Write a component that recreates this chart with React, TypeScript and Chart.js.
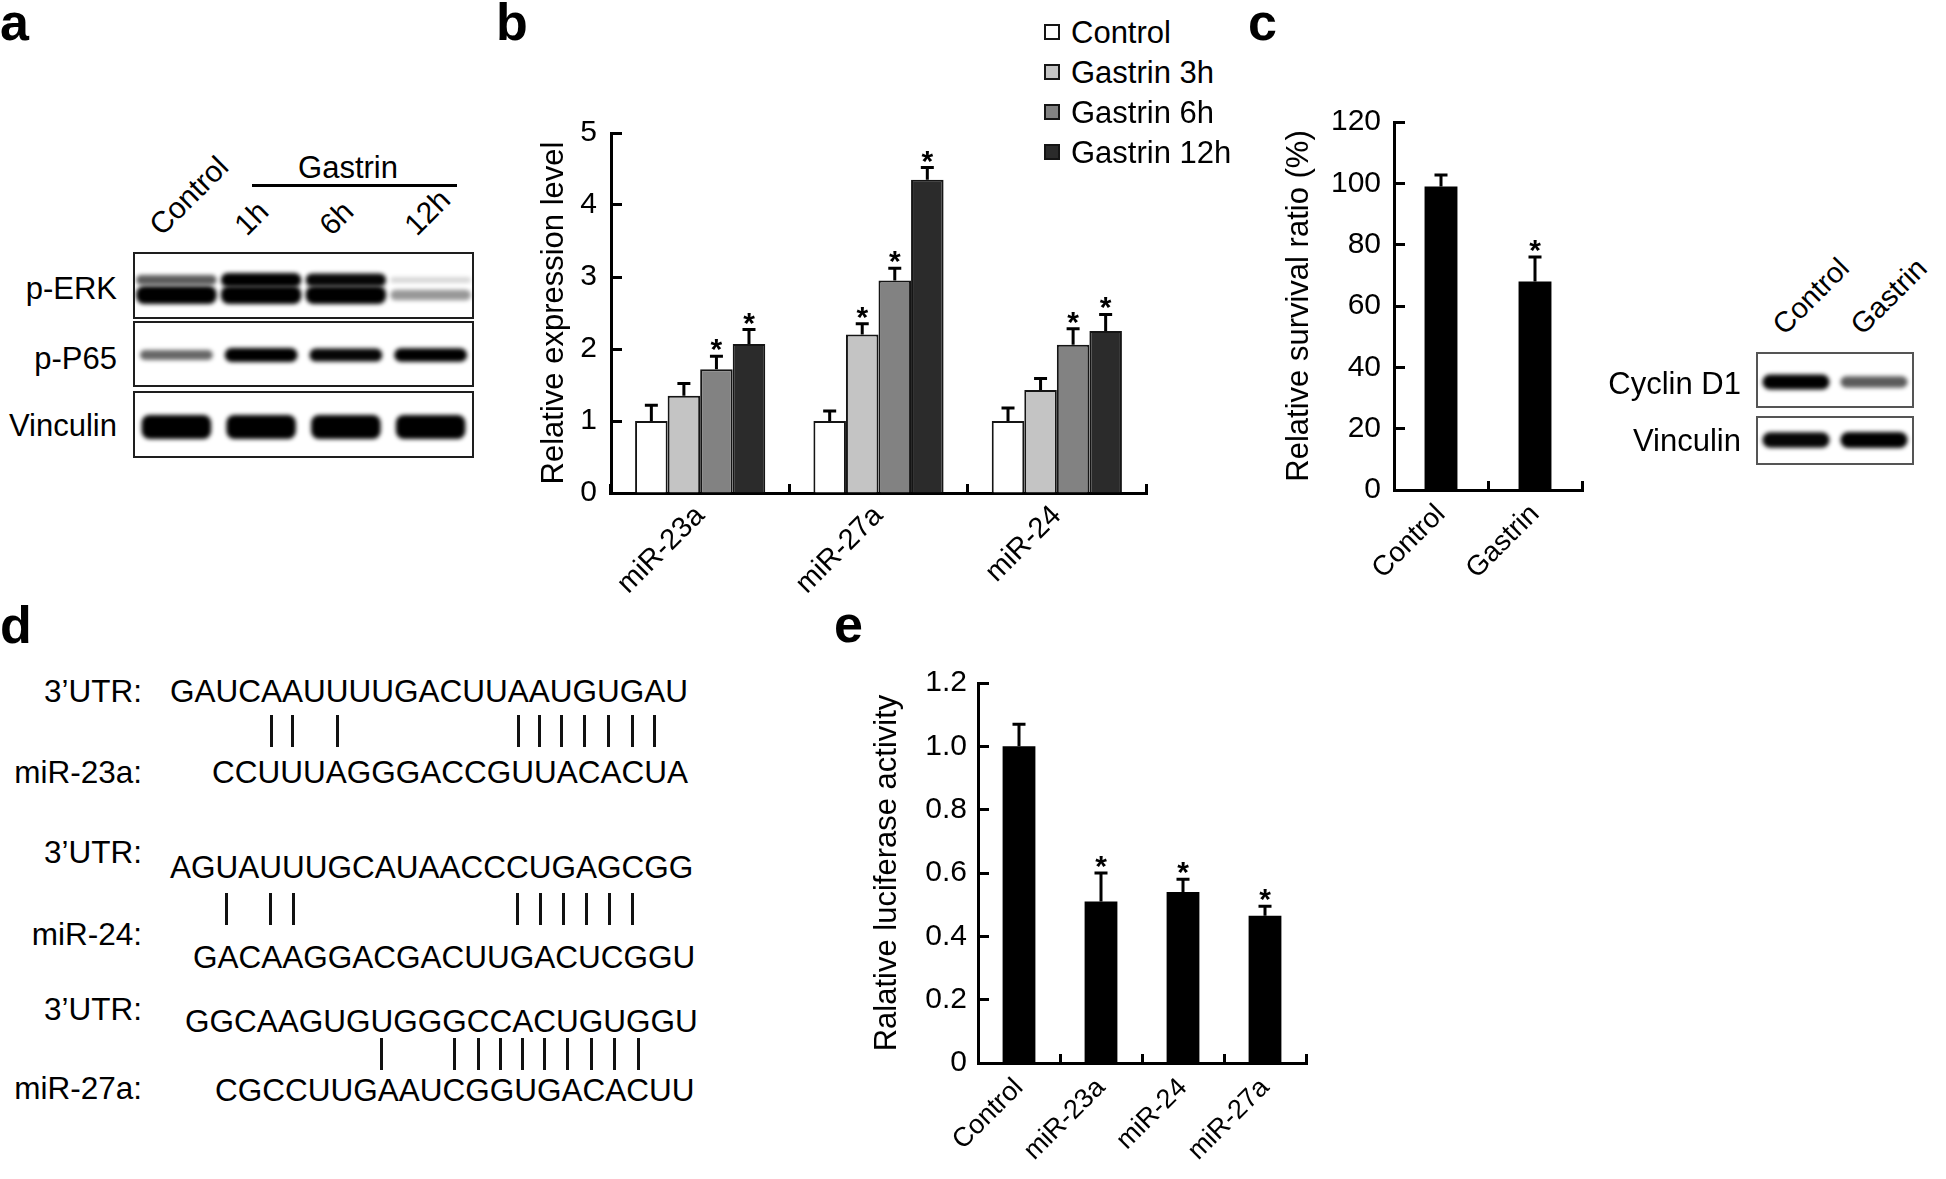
import React, { useEffect, useRef } from 'react';
import { Chart, registerables } from 'chart.js';

Chart.register(...registerables);

const FONT = "'Liberation Sans', Arial, Helvetica, sans-serif";
Chart.defaults.font.family = FONT;
Chart.defaults.color = '#000';

// ---------------- Panel a : western blot ----------------
const aLanes = ['Control', '1h', '6h', '12h'];
const aRows = ['p-ERK', 'p-P65', 'Vinculin'];
const pErkUpper = [0.55, 1.0, 0.9, 0.05];
const pErkLower = [1.0, 1.0, 1.0, 0.3];
const pP65 = [0.5, 1.0, 0.9, 0.95];
const vinculinA = [1, 1, 1, 1];

// ---------------- Panel b : grouped bars ----------------
const bCategories = ['miR-23a', 'miR-27a', 'miR-24'];
const bSeries = ['Control', 'Gastrin 3h', 'Gastrin 6h', 'Gastrin 12h'];
const bControl = [1.0, 1.0, 1.0];
const bGastrin3h = [1.35, 2.2, 1.43];
const bGastrin6h = [1.72, 2.95, 2.06];
const bGastrin12h = [2.07, 4.35, 2.25];
const bControlErr = [0.22, 0.14, 0.18];
const bGastrin3hErr = [0.17, 0.15, 0.16];
const bGastrin6hErr = [0.18, 0.17, 0.22];
const bGastrin12hErr = [0.2, 0.17, 0.23];
const bControlSig = [false, false, false];
const bGastrin3hSig = [false, true, false];
const bGastrin6hSig = [true, true, true];
const bGastrin12hSig = [true, true, true];
const bColors = ['#ffffff', '#c4c4c4', '#828282', '#2b2b2b'];

// ---------------- Panel c ----------------
const cCategories = ['Control', 'Gastrin'];
const cSurvival = [99, 68];
const cSurvivalErr = [3.7, 8];
const cSig = [false, true];
const cBlotLanes = ['Control', 'Gastrin'];
const cBlotRows = ['Cyclin D1', 'Vinculin'];
const cyclinD1 = [1.0, 0.55];
const vinculinC = [0.9, 1.0];

// ---------------- Panel d ----------------
const dMirNames = ['miR-23a:', 'miR-24:', 'miR-27a:'];
const dUtrSeqs = ['GAUCAAUUUUGACUUAAUGUGAU', 'AGUAUUUGCAUAACCCUGAGCGG', 'GGCAAGUGUGGGCCACUGUGGU'];
const dMirSeqs = ['CCUUUAGGGACCGUUACACUA', 'GACAAGGACGACUUGACUCGGU', 'CGCCUUGAAUCGGUGACACUU'];
const dLinks = [
  [4, 5, 7, 15, 16, 17, 18, 19, 20, 21],
  [2, 4, 5, 15, 16, 17, 18, 19, 20],
  [8, 11, 12, 13, 14, 15, 16, 17, 18, 19],
];

// ---------------- Panel e ----------------
const eCategories = ['Control', 'miR-23a', 'miR-24', 'miR-27a'];
const eLuciferase = [1.0, 0.51, 0.54, 0.465];
const eLuciferaseErr = [0.07, 0.09, 0.04, 0.03];
const eSig = [false, true, true, true];

// ---------------- helpers ----------------
const errorBarPlugin = {
  id: 'errorBars',
  afterDatasetsDraw(chart: any) {
    const { ctx } = chart;
    const yScale = chart.scales.y;
    chart.data.datasets.forEach((ds: any, i: number) => {
      const meta = chart.getDatasetMeta(i);
      meta.data.forEach((bar: any, j: number) => {
        const v = ds.data[j];
        const e = ds.errors[j];
        const x = bar.x;
        const y0 = yScale.getPixelForValue(v);
        const y1 = yScale.getPixelForValue(v + e);
        ctx.save();
        ctx.strokeStyle = '#000';
        ctx.lineWidth = 3;
        ctx.beginPath();
        ctx.moveTo(x, y0);
        ctx.lineTo(x, y1);
        ctx.moveTo(x - 6.5, y1);
        ctx.lineTo(x + 6.5, y1);
        ctx.stroke();
        if (ds.stars[j]) {
          ctx.fillStyle = '#000';
          ctx.font = `bold 30px ${FONT}`;
          ctx.textAlign = 'center';
          ctx.textBaseline = 'alphabetic';
          ctx.fillText('*', x, y1 + 3);
        }
        ctx.restore();
      });
    });
  },
};

function barOptions(spec: any) {
  const yTicks: any = {
    stepSize: spec.yStep,
    color: '#000',
    font: { size: spec.yFont, family: FONT },
    padding: spec.yPad,
  };
  if (spec.yCb) yTicks.callback = spec.yCb;
  return {
    responsive: false,
    maintainAspectRatio: false,
    animation: false,
    devicePixelRatio: 1,
    events: [],
    layout: { padding: { left: 0, top: spec.padTop, right: spec.padRight, bottom: 0 } },
    plugins: { legend: { display: false }, tooltip: { enabled: false } },
    scales: {
      x: {
        type: 'category',
        offset: true,
        ticks: {
          color: '#000',
          font: { size: spec.xFont, family: FONT },
          minRotation: 45,
          maxRotation: 45,
          autoSkip: false,
          padding: spec.xPad,
        },
        grid: { offset: true, drawOnChartArea: false, drawTicks: true, tickLength: -9, tickWidth: 3, tickColor: '#000' },
        border: { display: true, color: '#000', width: 3 },
        afterFit: (s: any) => {
          s.height = spec.xHeight;
        },
      },
      y: {
        type: 'linear',
        min: 0,
        max: spec.yMax,
        ticks: yTicks,
        grid: { drawOnChartArea: false, drawTicks: true, tickLength: -11, tickWidth: 3, tickColor: '#000' },
        border: { display: true, color: '#000', width: 3 },
        title: {
          display: true,
          text: spec.yTitle,
          color: '#000',
          font: { size: 31, family: FONT },
          padding: { top: spec.titlePad, bottom: 0 },
        },
        afterFit: (s: any) => {
          s.width = spec.yWidth;
        },
      },
    },
  };
}

function buildB() {
  const series = [bControl, bGastrin3h, bGastrin6h, bGastrin12h];
  const errs = [bControlErr, bGastrin3hErr, bGastrin6hErr, bGastrin12hErr];
  const sigs = [bControlSig, bGastrin3hSig, bGastrin6hSig, bGastrin12hSig];
  return {
    type: 'bar',
    data: {
      labels: bCategories,
      datasets: bSeries.map((name, i) => ({
        label: name,
        data: series[i],
        errors: errs[i],
        stars: sigs[i],
        backgroundColor: bColors[i],
        borderColor: '#151515',
        borderWidth: 2,
        categoryPercentage: 0.73,
        barPercentage: 1.0,
      })),
    },
    options: barOptions({
      padTop: 32, padRight: 34, xFont: 29, xPad: 15, xHeight: 157,
      yMax: 5, yStep: 1, yFont: 30, yPad: 25, yTitle: 'Relative expression level', titlePad: 36, yWidth: 111,
    }),
    plugins: [errorBarPlugin],
  };
}

function buildC() {
  return {
    type: 'bar',
    data: {
      labels: cCategories,
      datasets: [{
        label: 'Survival',
        data: cSurvival,
        errors: cSurvivalErr,
        stars: cSig,
        backgroundColor: '#000',
        borderWidth: 0,
        categoryPercentage: 0.7,
        barPercentage: 0.5,
      }],
    },
    options: barOptions({
      padTop: 34, padRight: 28, xFont: 28, xPad: 17, xHeight: 150,
      yMax: 120, yStep: 20, yFont: 30, yPad: 24, yTitle: 'Relative survival ratio (%)', titlePad: 11, yWidth: 124,
    }),
    plugins: [errorBarPlugin],
  };
}

function buildE() {
  return {
    type: 'bar',
    data: {
      labels: eCategories,
      datasets: [{
        label: 'Luciferase',
        data: eLuciferase,
        errors: eLuciferaseErr,
        stars: eSig,
        backgroundColor: '#000',
        borderWidth: 0,
        categoryPercentage: 0.8,
        barPercentage: 0.5,
      }],
    },
    options: barOptions({
      padTop: 43, padRight: 24, xFont: 27, xPad: 18, xHeight: 116,
      yMax: 1.2, yStep: 0.2, yFont: 30, yPad: 22, yTitle: 'Ralative luciferase activity', titlePad: 9,
      yWidth: 118, yCb: (v: any) => (Number(v) === 0 ? '0' : Number(v).toFixed(1)),
    }),
    plugins: [errorBarPlugin],
  };
}

function ChartCanvas({ left, top, width, height, build }: any) {
  const ref = useRef<HTMLCanvasElement>(null);
  useEffect(() => {
    const chart = new Chart(ref.current as HTMLCanvasElement, build() as any);
    return () => chart.destroy();
  }, []);
  return (
    <canvas
      ref={ref}
      width={width}
      height={height}
      style={{ position: 'absolute', left, top, width, height }}
    />
  );
}

function drawBand(ctx: CanvasRenderingContext2D, cx: number, cy: number, w: number, h: number, intensity: number) {
  if (intensity <= 0) return;
  ctx.save();
  ctx.filter = 'blur(2.2px)';
  ctx.fillStyle = `rgba(0,0,0,${Math.min(1, 0.12 + intensity * 0.95)})`;
  ctx.beginPath();
  const r = Math.min(h / 2, 8);
  (ctx as any).roundRect(cx - w / 2, cy - h / 2, w, h, r);
  ctx.fill();
  ctx.restore();
}

function BlotCanvas({ left, top, width, height, draw }: any) {
  const ref = useRef<HTMLCanvasElement>(null);
  useEffect(() => {
    const c = ref.current as HTMLCanvasElement;
    const ctx = c.getContext('2d') as CanvasRenderingContext2D;
    ctx.clearRect(0, 0, width, height);
    draw(ctx);
  }, []);
  return (
    <canvas ref={ref} width={width} height={height} style={{ position: 'absolute', left, top, width, height }} />
  );
}

// text helpers
function T({ x, y, s = 31, align = 'left', bold = false, children }: any) {
  const tx = align === 'right' ? '-100%' : align === 'center' ? '-50%' : '0';
  return (
    <div
      style={{
        position: 'absolute', left: x, top: y - s / 2, fontSize: s, lineHeight: `${s}px`,
        fontFamily: FONT, fontWeight: bold ? 700 : 400, whiteSpace: 'nowrap',
        transform: `translateX(${tx})`, color: '#000',
      }}
    >
      {children}
    </div>
  );
}

function R({ x, y, s = 30, children }: any) {
  const asc = 0.8465 * s;
  return (
    <div
      style={{
        position: 'absolute', left: x, top: y - asc, fontSize: s, lineHeight: `${s}px`,
        fontFamily: FONT, whiteSpace: 'nowrap', color: '#000',
        transformOrigin: `0px ${asc}px`, transform: 'rotate(-45deg)',
      }}
    >
      {children}
    </div>
  );
}

function PanelLabel({ x, baseline, children }: any) {
  const s = 52;
  return (
    <div
      style={{
        position: 'absolute', left: x, top: baseline - 0.8465 * s, fontSize: s, lineHeight: `${s}px`,
        fontFamily: FONT, fontWeight: 700, color: '#000',
      }}
    >
      {children}
    </div>
  );
}

let measureCtx: CanvasRenderingContext2D | null = null;
function textWidth(t: string, size: number) {
  if (!measureCtx) measureCtx = document.createElement('canvas').getContext('2d');
  (measureCtx as CanvasRenderingContext2D).font = `${size}px ${FONT}`;
  return (measureCtx as CanvasRenderingContext2D).measureText(t).width;
}

// ---------------- panel a ----------------
const A_BOX_L = 134, A_BOX_R = 473;
const A_ROW_TOPS = [253, 322, 392];
const A_ROW_BOTS = [318, 386, 457];
const A_CANVAS = { left: 120, top: 245, width: 365, height: 220 };

function drawPanelA(ctx: CanvasRenderingContext2D) {
  const ox = A_CANVAS.left, oy = A_CANVAS.top;
  const laneW = (A_BOX_R - A_BOX_L) / aLanes.length;
  aLanes.forEach((_, i) => {
    const cx = A_BOX_L + laneW * (i + 0.5) - ox;
    const t0 = A_ROW_TOPS[0] - oy;
    drawBand(ctx, cx, t0 + 27, laneW * 0.95, 5 + 9 * pErkUpper[i], pErkUpper[i]);
    drawBand(ctx, cx, t0 + 42, laneW * 0.95, 7 + 11 * pErkLower[i], pErkLower[i]);
    const t1 = A_ROW_TOPS[1] - oy;
    drawBand(ctx, cx, t1 + 33, laneW * 0.86, 6 + 8 * pP65[i], pP65[i]);
    const t2 = A_ROW_TOPS[2] - oy;
    drawBand(ctx, cx, t2 + 35, laneW * 0.82, 24 * vinculinA[i], vinculinA[i]);
  });
  ctx.strokeStyle = '#1e1e1e';
  ctx.lineWidth = 2;
  A_ROW_TOPS.forEach((t, r) => {
    ctx.strokeRect(A_BOX_L - ox, t - oy, A_BOX_R - A_BOX_L, A_ROW_BOTS[r] - t);
  });
}

// ---------------- panel c blot ----------------
const C_BOX_L = 1757, C_BOX_R = 1913;
const C_ROW_TOPS = [353, 417];
const C_ROW_BOTS = [407, 464];
const C_CANVAS = { left: 1750, top: 345, width: 170, height: 125 };

function drawPanelCBlot(ctx: CanvasRenderingContext2D) {
  const ox = C_CANVAS.left, oy = C_CANVAS.top;
  const laneW = (C_BOX_R - C_BOX_L) / cBlotLanes.length;
  cBlotLanes.forEach((_, i) => {
    const cx = C_BOX_L + laneW * (i + 0.5) - ox;
    drawBand(ctx, cx, C_ROW_TOPS[0] - oy + 29, laneW * 0.86, 7 + 8 * cyclinD1[i], cyclinD1[i]);
    drawBand(ctx, cx, C_ROW_TOPS[1] - oy + 23, laneW * 0.86, 10 + 6 * vinculinC[i], vinculinC[i]);
  });
  ctx.strokeStyle = '#555';
  ctx.lineWidth = 2;
  C_ROW_TOPS.forEach((t, r) => {
    ctx.strokeRect(C_BOX_L - ox, t - oy, C_BOX_R - C_BOX_L, C_ROW_BOTS[r] - t);
  });
}

// ---------------- panel d layout ----------------
const D_FONT = 31.5;
const D_LABEL_RIGHT = 142;
const D_UTR_LEFT = [170, 170, 185];
const D_UTR_Y = [692, 868, 1022];
const D_UTR_LABEL_Y = [692, 853, 1010];
const D_BAR_TOP = [715, 893, 1038];
const D_BAR_H = 32;
const D_MIR_LEFT = [212, 193, 215];
const D_MIR_Y = [773, 958, 1091];
const D_MIR_LABEL_Y = [773, 935, 1089];

function PanelD() {
  const items: any[] = [];
  dUtrSeqs.forEach((seq, b) => {
    items.push(<T key={`ul${b}`} x={D_LABEL_RIGHT} y={D_UTR_LABEL_Y[b]} s={D_FONT} align="right">3’UTR:</T>);
    items.push(<T key={`us${b}`} x={D_UTR_LEFT[b]} y={D_UTR_Y[b]} s={D_FONT}>{seq}</T>);
    items.push(<T key={`ml${b}`} x={D_LABEL_RIGHT} y={D_MIR_LABEL_Y[b]} s={D_FONT} align="right">{dMirNames[b]}</T>);
    items.push(<T key={`ms${b}`} x={D_MIR_LEFT[b]} y={D_MIR_Y[b]} s={D_FONT}>{dMirSeqs[b]}</T>);
    dLinks[b].forEach((idx, k) => {
      const pre = textWidth(seq.slice(0, idx), D_FONT);
      const cw = textWidth(seq[idx], D_FONT);
      const cx = D_UTR_LEFT[b] + pre + cw / 2;
      items.push(
        <div
          key={`bar${b}_${k}`}
          style={{ position: 'absolute', left: cx - 1.5, top: D_BAR_TOP[b], width: 3, height: D_BAR_H, background: '#111' }}
        />
      );
    });
  });
  return <>{items}</>;
}

export default function App() {
  const aLaneW = (A_BOX_R - A_BOX_L) / aLanes.length;
  const cLaneW = (C_BOX_R - C_BOX_L) / cBlotLanes.length;
  const aRowLabelY = [288, 358, 425];
  const cRowLabelY = [383, 440];
  const legendY = [32, 72, 112, 152];
  return (
    <div
      style={{
        position: 'absolute', left: 0, top: 0, width: 1946, height: 1179,
        background: '#fff', overflow: 'hidden', fontFamily: FONT,
      }}
    >
      <PanelLabel x={0} baseline={40}>a</PanelLabel>
      <PanelLabel x={496} baseline={40}>b</PanelLabel>
      <PanelLabel x={1248} baseline={40}>c</PanelLabel>
      <PanelLabel x={0} baseline={643}>d</PanelLabel>
      <PanelLabel x={834} baseline={642}>e</PanelLabel>

      {/* panel a */}
      <T x={348} y={167} s={31} align="center">Gastrin</T>
      <div style={{ position: 'absolute', left: 252, top: 183.5, width: 205, height: 3, background: '#000' }} />
      {aLanes.map((l, i) => (
        <R key={`al${i}`} x={A_BOX_L + aLaneW * (i + 0.5) - 14} y={237} s={30}>{l}</R>
      ))}
      {aRows.map((r, i) => (
        <T key={`ar${i}`} x={117} y={aRowLabelY[i]} s={31} align="right">{r}</T>
      ))}
      <BlotCanvas {...A_CANVAS} draw={drawPanelA} />

      {/* panel b */}
      <ChartCanvas left={500} top={90} width={680} height={560} build={buildB} />
      {bSeries.map((name, i) => (
        <React.Fragment key={`lg${i}`}>
          <div
            style={{
              position: 'absolute', left: 1044, top: legendY[i] - 8, width: 12, height: 12,
              background: bColors[i], border: '2px solid #151515',
            }}
          />
          <T x={1071} y={legendY[i]} s={31}>{name}</T>
        </React.Fragment>
      ))}

      {/* panel c */}
      <ChartCanvas left={1270} top={80} width={340} height={560} build={buildC} />
      {cBlotLanes.map((l, i) => (
        <R key={`cl${i}`} x={C_BOX_L + cLaneW * (i + 0.5) - 11} y={337} s={29}>{l}</R>
      ))}
      {cBlotRows.map((r, i) => (
        <T key={`cr${i}`} x={1741} y={cRowLabelY[i]} s={31} align="right">{r}</T>
      ))}
      <BlotCanvas {...C_CANVAS} draw={drawPanelCBlot} />

      {/* panel d */}
      <PanelD />

      {/* panel e */}
      <ChartCanvas left={860} top={640} width={470} height={539} build={buildE} />
    </div>
  );
}
